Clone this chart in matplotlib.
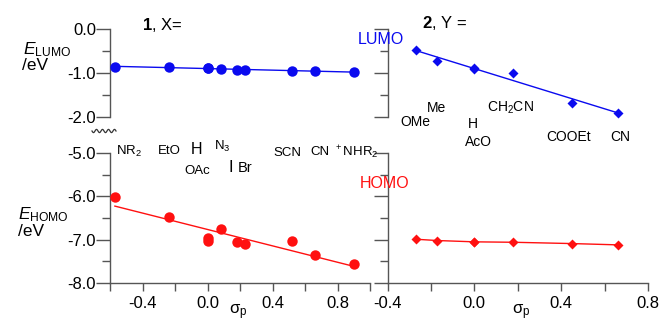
import numpy as np
import matplotlib
matplotlib.use("Agg")
import matplotlib.pyplot as plt
from matplotlib.ticker import FixedLocator, FormatStrFormatter
from matplotlib.lines import Line2D

plt.rcParams['font.family'] = ['Liberation Sans', 'DejaVu Sans']
plt.rcParams['mathtext.fontset'] = 'custom'
plt.rcParams['mathtext.rm'] = 'Liberation Sans'
plt.rcParams['mathtext.it'] = 'Liberation Sans:italic'
plt.rcParams['mathtext.bf'] = 'Liberation Sans:bold'
plt.rcParams['axes.unicode_minus'] = False

# compound 1, substituent X
sigma_1 = [-0.57, -0.24, 0.0, 0.0, 0.08, 0.18, 0.23, 0.52, 0.66, 0.90]
lumo_1 = [-0.86, -0.86, -0.89, -0.89, -0.91, -0.93, -0.93, -0.95, -0.95, -0.98]
homo_1 = [-6.01, -6.47, -6.95, -7.02, -6.75, -7.06, -7.09, -7.04, -7.35, -7.57]
labels_1 = ["NR$_2$", "EtO", "H", "OAc", "N$_3$", "I", "Br", "SCN", "CN", "$^+$NHR$_2$"]

# compound 2, substituent Y
sigma_2 = [-0.27, -0.17, 0.0, 0.0, 0.18, 0.45, 0.66]
lumo_2 = [-0.48, -0.73, -0.88, -0.92, -0.99, -1.68, -1.91]
homo_2 = [-6.99, -7.02, -7.05, -7.05, -7.06, -7.09, -7.12]
labels_2 = ["OMe", "Me", "H", "AcO", "CH$_2$CN", "COOEt", "CN"]

W, H = 662, 323
BLUE = '#0a0aef'
RED = '#ff1010'
SPINE = '#555555'

fig = plt.figure(figsize=(W / 100, H / 100), dpi=100)


def box(x0, y0, x1, y1):
    # pixel box (top-left origin) -> figure fraction
    return [x0 / W, 1 - y1 / H, (x1 - x0) / W, (y1 - y0) / H]


def ftext(x, y, s, **kw):
    kw.setdefault('ha', 'center')
    kw.setdefault('va', 'center')
    return fig.text(x / W, 1 - y / H, s, **kw)


def style(ax, xlim, ylim, ymajor, yminor, xmajor, xminor, bottom, ylabels):
    ax.set_facecolor('none')
    ax.set_xlim(*xlim)
    ax.set_ylim(*ylim)
    for s in ['top', 'right']:
        ax.spines[s].set_visible(False)
    for s in ['left', 'bottom']:
        ax.spines[s].set_color(SPINE)
        ax.spines[s].set_linewidth(1.0)
    ax.yaxis.set_major_locator(FixedLocator(ymajor))
    ax.yaxis.set_minor_locator(FixedLocator(yminor))
    ax.yaxis.set_major_formatter(FormatStrFormatter('%.1f'))
    ax.tick_params(axis='y', which='major', direction='out', length=10, width=1,
                   color=SPINE, pad=0, labelsize=12, labelleft=ylabels)
    ax.tick_params(axis='y', which='minor', direction='out', length=6, width=1, color=SPINE)
    if bottom:
        ax.xaxis.set_major_locator(FixedLocator(xmajor))
        ax.xaxis.set_minor_locator(FixedLocator(xminor))
        ax.xaxis.set_major_formatter(FormatStrFormatter('%.1f'))
        ax.tick_params(axis='x', which='both', direction='out', length=6, width=1,
                       color=SPINE, pad=3, labelsize=12)
    else:
        ax.spines['bottom'].set_visible(False)
        ax.set_xticks([])


def fit_line(ax, x, y, color):
    k, b = np.polyfit(x, y, 1)
    xx = np.array([min(x), max(x)])
    ax.plot(xx, k * xx + b, color=color, lw=1.0, zorder=2, clip_on=False)


ax_lt = fig.add_axes(box(110, 29, 370, 117))
ax_lb = fig.add_axes(box(110, 153, 370, 283))
ax_rt = fig.add_axes(box(387.5, 29, 648, 117))
ax_rb = fig.add_axes(box(387.5, 153, 648, 283))

left_x = dict(xlim=(-0.6, 1.0), xmajor=[-0.4, 0.0, 0.4, 0.8], xminor=[-0.6, -0.2, 0.2, 0.6, 1.0])
right_x = dict(xlim=(-0.4, 0.8), xmajor=[-0.4, 0.0, 0.4, 0.8], xminor=[-0.2, 0.2, 0.6])
top_y = dict(ylim=(-2.0, 0.0), ymajor=[0.0, -1.0, -2.0], yminor=[-0.5, -1.5])
bot_y = dict(ylim=(-8.0, -5.0), ymajor=[-5.0, -6.0, -7.0, -8.0], yminor=[-5.5, -6.5, -7.5])

style(ax_lt, bottom=False, ylabels=True, **left_x, **top_y)
style(ax_lb, bottom=True, ylabels=True, **left_x, **bot_y)
style(ax_rt, bottom=False, ylabels=False, **right_x, **top_y)
style(ax_rb, bottom=True, ylabels=False, **right_x, **bot_y)

# compound 1: circles
fit_line(ax_lt, sigma_1, lumo_1, BLUE)
ax_lt.plot(sigma_1, lumo_1, 'o', color=BLUE, ms=7.5, mec='none', zorder=3, clip_on=False)
fit_line(ax_lb, sigma_1, homo_1, RED)
ax_lb.plot(sigma_1, homo_1, 'o', color=RED, ms=7.5, mec='none', zorder=3, clip_on=False)

# compound 2: diamonds
fit_line(ax_rt, sigma_2, lumo_2, BLUE)
ax_rt.plot(sigma_2, lumo_2, 'D', color=BLUE, ms=5.5, mec='none', zorder=3, clip_on=False)
ax_rb.plot(sigma_2, homo_2, '-', color=RED, lw=1.0, zorder=2)
ax_rb.plot(sigma_2, homo_2, 'D', color=RED, ms=5.5, mec='none', zorder=3, clip_on=False)

# substituent labels (pixel positions)
pos_1 = [(129, 151), (169, 151), (197, 149), (197, 171), (222, 146),
         (231, 168), (245, 168), (287, 153), (320, 152), (356, 152)]
size_1 = [9.5, 9.5, 11.5, 9.5, 9.5, 12, 10.5, 9.5, 9.5, 9.5]
for s, (x, y), fs in zip(labels_1, pos_1, size_1):
    ftext(x, y, s, fontsize=fs)

pos_2 = [(415, 122), (437, 108), (473, 124), (478, 142), (510, 108), (569, 137), (620, 137)]
for s, (x, y) in zip(labels_2, pos_2):
    ftext(x, y, s, fontsize=10)

ftext(162, 25, r"$\mathbf{1}$, X=", fontsize=12)
ftext(445, 23, r"$\mathbf{2}$, Y =", fontsize=12)
ftext(381, 39, "LUMO", color=BLUE, fontsize=11.5)
ftext(385, 184, "HOMO", color=RED, fontsize=11.5)

ftext(23, 50, r"$E_{\mathrm{LUMO}}$", fontsize=12.5, ha='left')
ftext(22, 66, "/eV", fontsize=12.5, ha='left')
ftext(18, 215, r"$E_{\mathrm{HOMO}}$", fontsize=12.5, ha='left')
ftext(18, 231, "/eV", fontsize=12.5, ha='left')

ftext(238, 312, "σ$_{\\mathrm{p}}$", fontsize=12)
ftext(521, 312, "σ$_{\\mathrm{p}}$", fontsize=12)

# axis break mark
wx = np.linspace(92, 116, 80)
wy = 131 + 1.6 * np.sin((wx - 92) / 6.0 * 2 * np.pi)
fig.add_artist(Line2D(wx / W, 1 - wy / H, transform=fig.transFigure, color='#333333', lw=0.9))

fig.savefig("out.png", dpi=100)
